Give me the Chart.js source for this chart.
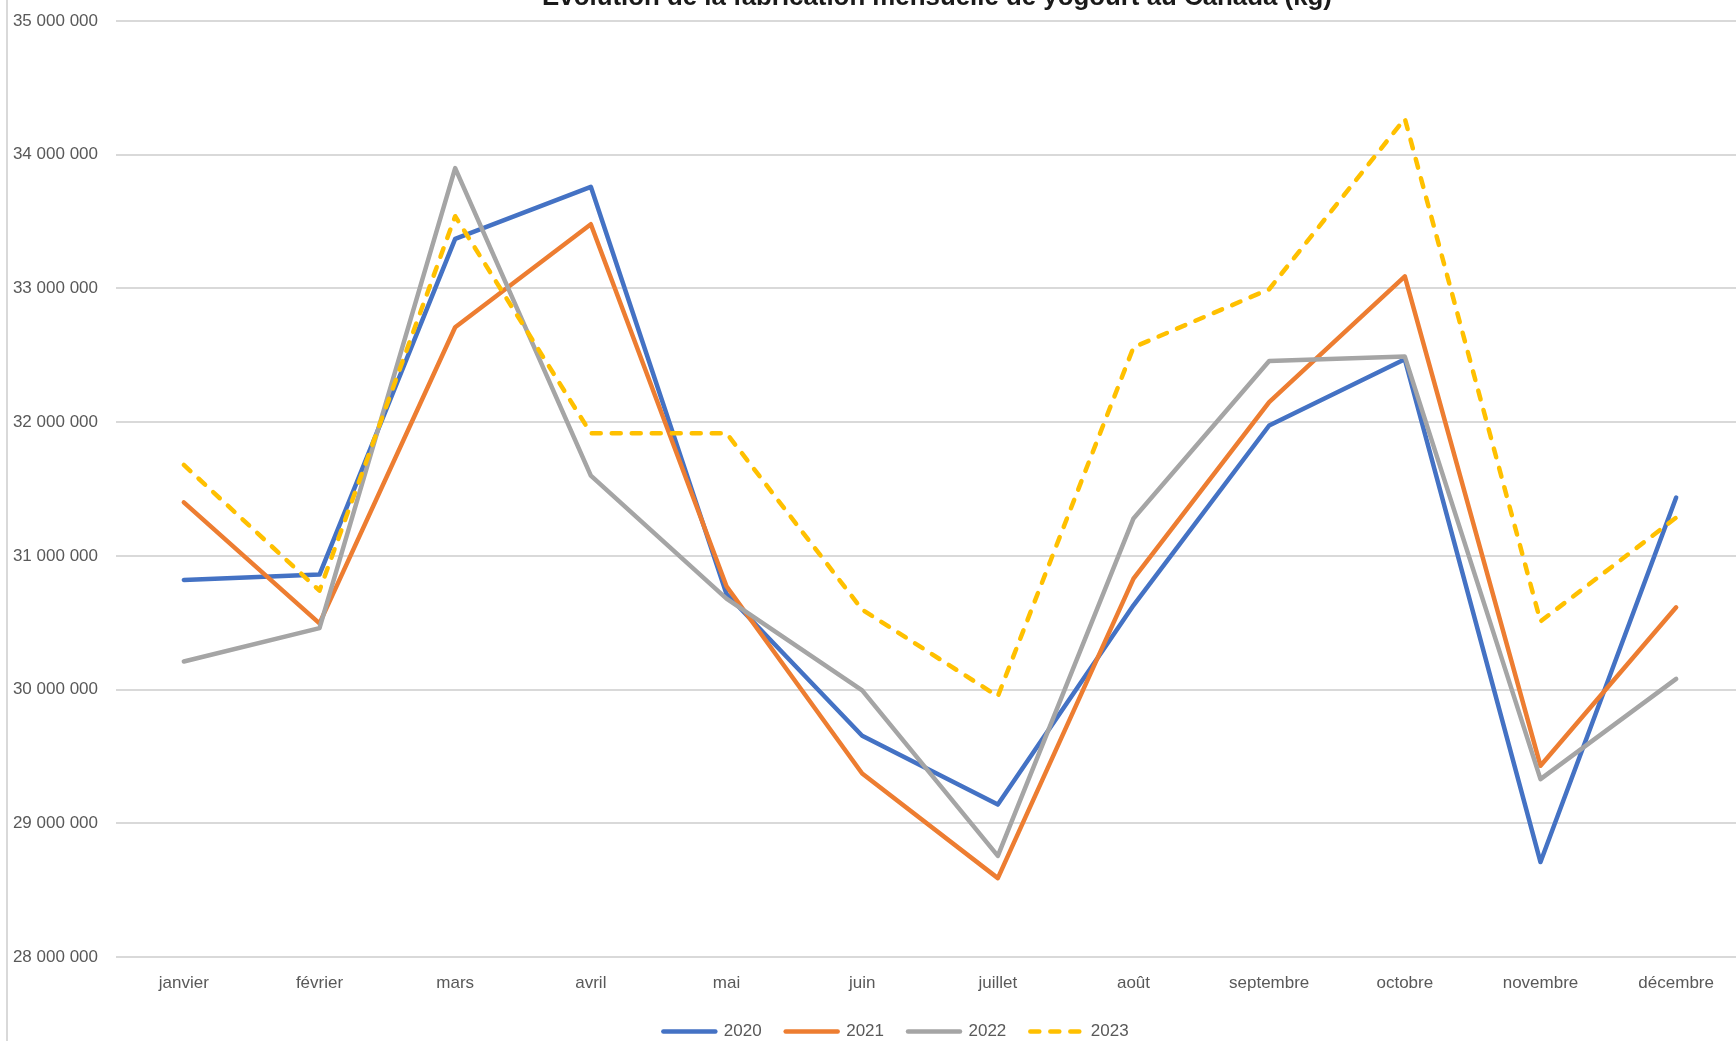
<!DOCTYPE html>
<html>
<head>
<meta charset="utf-8">
<script src="https://cdn.jsdelivr.net/npm/chart.js@4"></script>
<style>
html, body { margin: 0; padding: 0; background: #fff; overflow: hidden; }
#wrap { position: absolute; left: 0; top: 0; width: 1750px; height: 1050px; }
</style>
</head>
<body>
<div id="wrap"><canvas id="chart"></canvas></div>
<script>
const titleText = 'Évolution de la fabrication mensuelle de yogourt au Canada (kg)';
const months = ['janvier', 'février', 'mars', 'avril', 'mai', 'juin', 'juillet', 'août', 'septembre', 'octobre', 'novembre', 'décembre'];
const years = ['2020', '2021', '2022', '2023'];
const y2020 = [30820000, 30860000, 33370000, 33760000, 30715000, 29655000, 29140000, 30630000, 31975000, 32470000, 28710000, 31436000];
const y2021 = [31400000, 30495000, 32710000, 33480000, 30773000, 29372000, 28590000, 30830000, 32150000, 33090000, 29430000, 30615000];
const y2022 = [30210000, 30460000, 33900000, 31600000, 30680000, 29994000, 28756000, 31280000, 32457000, 32490000, 29330000, 30080000];
const y2023 = [31680000, 30740000, 33540000, 31917000, 31917000, 30598000, 29950000, 32560000, 32994000, 34270000, 30510000, 31286000];
const yMin = 28000000;
const yMax = 35000000;
const yStep = 1000000;

const colors = ['#4472C4', '#ED7D31', '#A5A5A5', '#FFC000'];
const FONT = '"Liberation Sans", Arial, sans-serif';

const fmt = v => String(v).replace(/\B(?=(\d{3})+(?!\d))/g, ' ');

function ds(label, data, i, dashed) {
    return {
        label: label,
        data: data,
        borderColor: colors[i],
        backgroundColor: colors[i],
        borderWidth: 4.5,
        borderDash: dashed ? [9, 11] : [],
        borderCapStyle: 'round',
        borderJoinStyle: 'round',
        pointRadius: 0,
        tension: 0,
        order: 3 - i
    };
}

const decor = {
    id: 'decor',
    afterLayout(chart) {
        // legend sits a bit right of centre in the original
        if (chart.legend) {
            chart.legend.left += 24;
            chart.legend.right += 24;
        }
    },
    beforeDraw(chart) {
        const ctx = chart.ctx;
        ctx.save();
        ctx.fillStyle = '#d9d9d9';
        ctx.fillRect(6, 0, 2, chart.height);
        ctx.restore();
    },
    afterDraw(chart) {
        const ctx = chart.ctx;
        ctx.save();
        let size = 22;
        ctx.font = 'bold ' + size + 'px ' + FONT;
        size = size * 790 / ctx.measureText(titleText).width;
        ctx.font = 'bold ' + size.toFixed(2) + 'px ' + FONT;
        ctx.fillStyle = '#1a1a1a';
        ctx.textAlign = 'center';
        ctx.textBaseline = 'alphabetic';
        ctx.fillText(titleText, 937, 5);
        ctx.restore();
    }
};

const ctx = document.getElementById('chart').getContext('2d');
new Chart(ctx, {
    type: 'line',
    data: {
        labels: months,
        datasets: [
            ds(years[0], y2020, 0, false),
            ds(years[1], y2021, 1, false),
            ds(years[2], y2022, 2, false),
            ds(years[3], y2023, 3, true)
        ]
    },
    options: {
        responsive: true,
        maintainAspectRatio: false,
        animation: false,
        layout: { padding: { left: 0, right: 6, top: 21, bottom: 0 } },
        scales: {
            x: {
                offset: true,
                grid: { display: false, drawTicks: false },
                border: { display: false },
                ticks: {
                    color: '#595959',
                    font: { family: FONT, size: 17 },
                    padding: 16,
                    maxRotation: 0,
                    autoSkip: false
                },
                afterFit(s) { s.height = 42; }
            },
            y: {
                min: yMin,
                max: yMax,
                grid: { color: '#d9d9d9', lineWidth: 2, drawTicks: false },
                border: { display: false },
                ticks: {
                    stepSize: yStep,
                    color: '#595959',
                    font: { family: FONT, size: 17 },
                    padding: 18,
                    callback: v => fmt(v)
                },
                afterFit(s) {
                    s.width = 116;
                    s.paddingTop = 0;
                    s.paddingBottom = 0;
                }
            }
        },
        plugins: {
            legend: {
                position: 'bottom',
                labels: {
                    usePointStyle: true,
                    pointStyle: 'line',
                    pointStyleWidth: 52,
                    padding: 24,
                    color: '#595959',
                    font: { family: FONT, size: 17 },
                    sort: (a, b) => a.datasetIndex - b.datasetIndex,
                    generateLabels(chart) {
                        const items = Chart.defaults.plugins.legend.labels.generateLabels(chart);
                        items.forEach(it => {
                            const d = chart.data.datasets[it.datasetIndex];
                            it.lineDash = d.borderDash;
                            it.lineWidth = d.borderWidth;
                            it.lineCap = 'round';
                            it.strokeStyle = d.borderColor;
                        });
                        return items;
                    }
                }
            },
            title: { display: false },
            tooltip: { enabled: false }
        }
    },
    plugins: [decor]
});
</script>
</body>
</html>
